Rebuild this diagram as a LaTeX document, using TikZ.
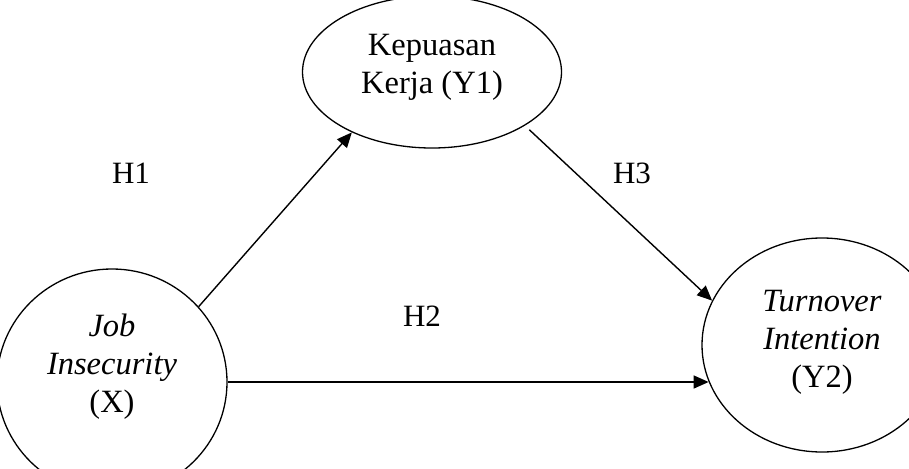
\documentclass[tikz,border=0pt]{standalone}
\usepackage{fontspec}
\setmainfont{Liberation Serif}
\usetikzlibrary{shapes.geometric,arrows.meta}
\tikzset{
  var/.style={draw, ellipse, line width=1.3pt, inner sep=0pt},
  vtext/.style={font=\fontsize{32.5}{38}\selectfont, align=center},
  hyp/.style={font=\fontsize{31}{38}\selectfont, inner sep=0pt},
  link/.style={line width=1.4pt, -{Triangle[length=15pt,width=13pt]}}
}
\begin{document}
\begin{tikzpicture}[x=1pt,y=-1pt]
\useasboundingbox (0,0) rectangle (909,468);
\node[var, minimum width=259pt, minimum height=152pt] (Y1) at (432,72) {};
\node[var, minimum width=230pt, minimum height=226pt] (X) at (112,382) {};
\node[var, minimum width=240pt, minimum height=214pt] (Y2) at (822,345) {};
\node[vtext] (Y1t) at (432,67) {Kepuasan\\Kerja (Y1)};
\node[vtext] (Xt) at (112,367) {\textit{Job}\\\textit{Insecurity}\\(X)};
\node[vtext] (Y2t) at (822,342) {\textit{Turnover}\\\textit{Intention}\\(Y2)};
\node[hyp] (H1) at (131,173) {H1};
\node[hyp] (H3) at (632,173) {H3};
\node[hyp] (H2) at (422,316) {H2};
\draw[link] (X.41) -- (Y1.217.8);
\draw[link, shorten <=6pt] (Y1.-30) -- (Y2.158);
\draw[link] (X.east) -- (X.east -| Y2.198);
\end{tikzpicture}
\end{document}
